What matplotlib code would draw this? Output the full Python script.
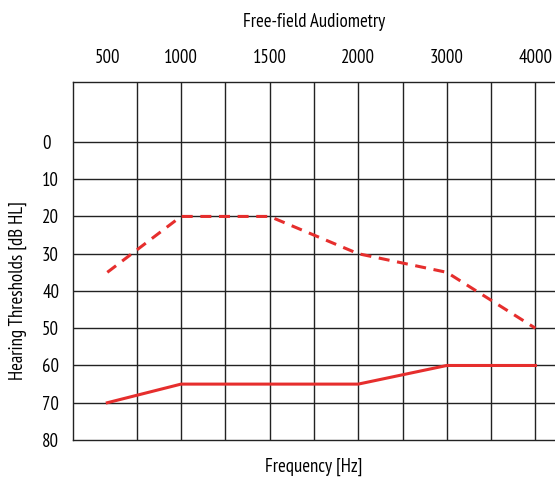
import matplotlib
matplotlib.use("Agg")
import matplotlib.pyplot as plt
from matplotlib import font_manager

# ---- data ----
freq_labels = ["500", "1000", "1500", "2000", "3000", "4000"]
dashed_vals = [35, 20, 20, 30, 35, 50]
solid_vals = [70, 65, 65, 65, 60, 60]
y_ticks = [0, 10, 20, 30, 40, 50, 60, 70, 80]

# ---- layout (axis positions of categories, in grid units) ----
x_pos = [0.336, 2, 4, 6, 8, 10]

names = {f.name for f in font_manager.fontManager.ttflist}
fam = "DejaVu Sans"
for cand in ["PT Sans Narrow", "Open Sans Condensed", "Roboto Condensed", "Fira Sans Condensed"]:
    if cand in names:
        fam = cand
        break
plt.rcParams["font.family"] = [fam, "DejaVu Sans"]
FS = 13.5

W, H = 555, 480
fig = plt.figure(figsize=(W / 100, H / 100), dpi=100)
left_px, right_px, top_px, bot_px = 72.7, 558, 82.3, 440
ax = fig.add_axes([left_px / W, 1 - bot_px / H, (right_px - left_px) / W, (bot_px - top_px) / H])

ax.set_xlim(-0.445, 10.51)
ax.set_ylim(80, -16)

grid_c = "#222222"
for gx in range(1, 11):
    ax.axvline(gx, color=grid_c, lw=1.0, zorder=1)
for gy in y_ticks[:-1]:
    ax.axhline(gy, color=grid_c, lw=1.0, zorder=1)

red = "#e62e2d"
ax.plot(x_pos, dashed_vals, color=red, lw=2.2, ls=(0, (3.6, 2.5)), zorder=3)
ax.plot(x_pos, solid_vals, color=red, lw=2.2, zorder=3)

ax.spines["right"].set_visible(False)
for s in ["left", "top", "bottom"]:
    ax.spines[s].set_color(grid_c)
    ax.spines[s].set_linewidth(1.0)

ax.xaxis.tick_top()
ax.set_xticks(x_pos)
ax.set_xticklabels(freq_labels, fontsize=FS)
ax.tick_params(axis="x", length=0, pad=11)
ax.set_yticks(y_ticks)
ax.set_yticklabels([str(v) for v in y_ticks], fontsize=FS)
ax.tick_params(axis="y", length=0, pad=22)
for lab in ax.get_yticklabels():
    lab.set_horizontalalignment("left")

fig.text(313.8 / W, 1 - 22 / H, "Free-field Audiometry", ha="center", va="center", fontsize=FS)
fig.text(314 / W, 1 - 467 / H, "Frequency [Hz]", ha="center", va="center", fontsize=FS)
fig.text(17.5 / W, 1 - 291 / H, "Hearing Thresholds [dB HL]", ha="center", va="center",
         rotation=90, fontsize=FS)

fig.savefig("out.png", dpi=100)
